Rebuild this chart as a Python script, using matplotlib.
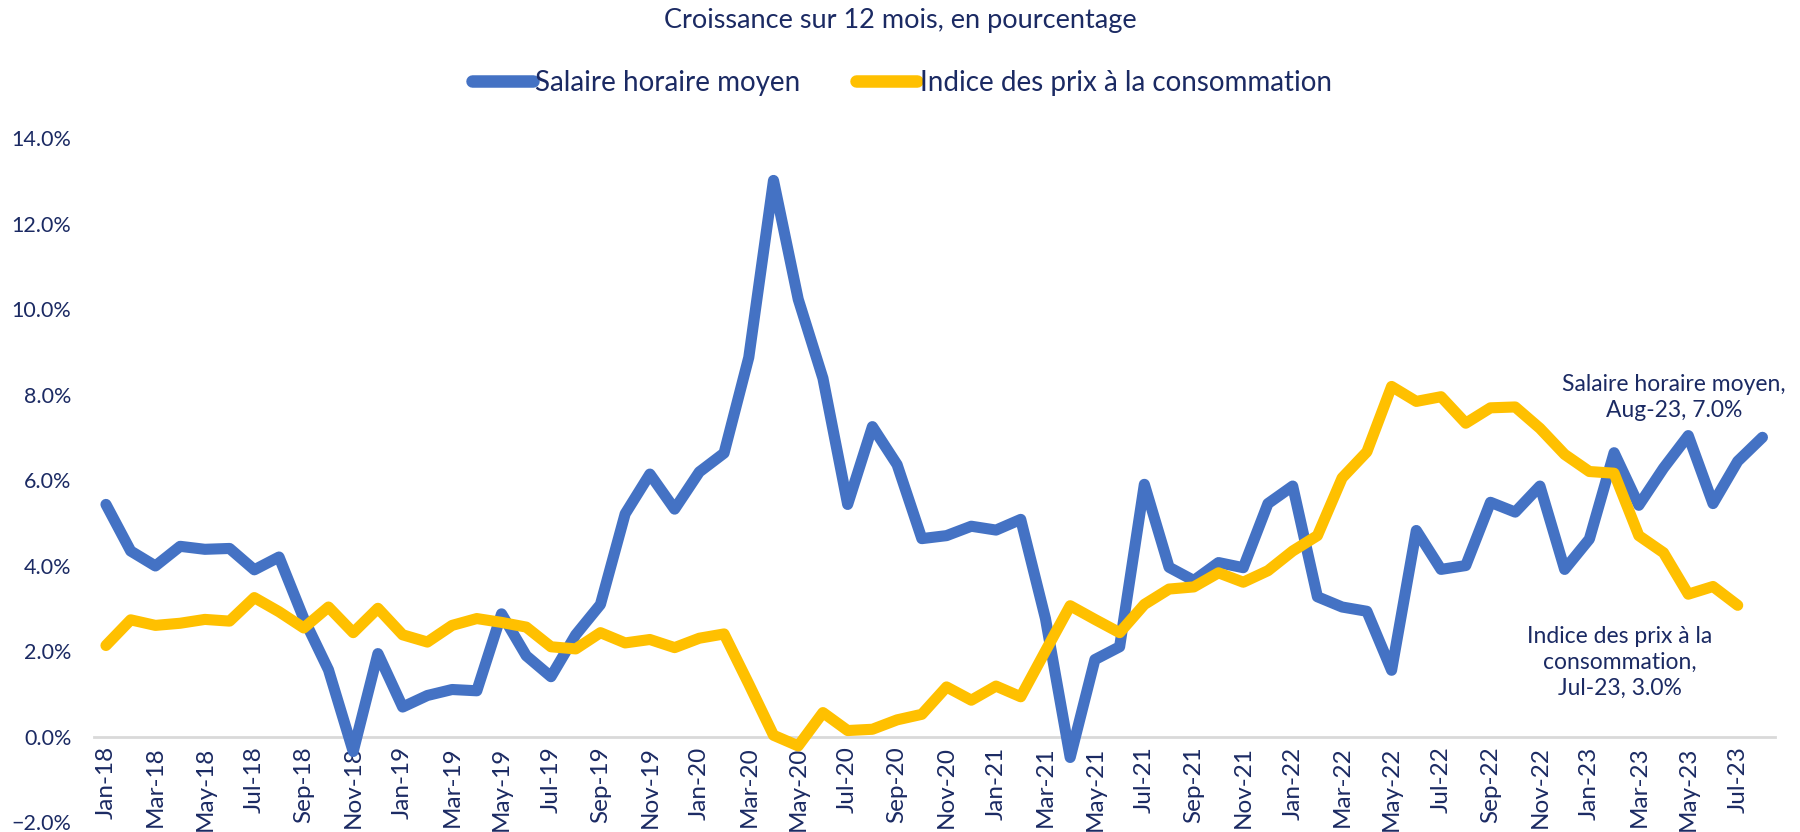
import numpy as np
import pandas as pd
import matplotlib
matplotlib.use("Agg")
import matplotlib.pyplot as plt
from matplotlib.ticker import PercentFormatter

plt.rcParams['font.family'] = ['Lato', 'DejaVu Sans']

NAVY = "#1B2A63"
BLUE = "#4472C4"
GOLD = "#FFC000"

# monthly categories, Jan-18 .. Aug-23
months = pd.date_range("2018-01-01", periods=68, freq="MS").strftime("%b-%y").tolist()

# Salaire horaire moyen, 12-month growth (%)
salaire = [
    5.43, 4.34, 3.99, 4.45, 4.38, 4.40, 3.90, 4.20, 2.76, 1.56, -0.35, 1.94,
    0.69, 0.96, 1.10, 1.07, 2.87, 1.89, 1.40, 2.38, 3.09, 5.21, 6.14, 5.32,
    6.19, 6.63, 8.87, 13.01, 10.23, 8.38, 5.43, 7.25, 6.36, 4.63, 4.70, 4.92,
    4.83, 5.08, 2.76, -0.49, 1.80, 2.10, 5.90, 3.96, 3.65, 4.07, 3.95, 5.45,
    5.86, 3.27, 3.03, 2.93, 1.55, 4.82, 3.91, 4.00, 5.48, 5.25, 5.86, 3.91,
    4.62, 6.64, 5.41, 6.28, 7.04, 5.45, 6.44, 7.00,
]

# Indice des prix a la consommation, 12-month growth (%), ends Jul-23
ipc = [
    2.13, 2.73, 2.60, 2.65, 2.74, 2.70, 3.25, 2.92, 2.54, 3.03, 2.43, 3.00,
    2.38, 2.21, 2.60, 2.76, 2.67, 2.56, 2.10, 2.05, 2.43, 2.19, 2.27, 2.08,
    2.30, 2.40, 1.23, 0.03, -0.22, 0.56, 0.14, 0.17, 0.39, 0.52, 1.16, 0.85,
    1.18, 0.93, 2.00, 3.06, 2.74, 2.43, 3.09, 3.45, 3.50, 3.83, 3.61, 3.88,
    4.34, 4.70, 6.05, 6.66, 8.19, 7.84, 7.95, 7.33, 7.69, 7.71, 7.21, 6.60,
    6.20, 6.16, 4.70, 4.30, 3.33, 3.51, 3.07,
]

fig = plt.figure(figsize=(18, 8.32), dpi=100)
ax = fig.add_axes([0.052, 0.012, 0.934, 0.822])

x_sal = np.arange(len(salaire))
x_ipc = np.arange(len(ipc))

ax.plot(x_sal, salaire, color=BLUE, lw=8, solid_joinstyle="round",
        solid_capstyle="round", label="Salaire horaire moyen", zorder=3)
ax.plot(x_ipc, ipc, color=GOLD, lw=8, solid_joinstyle="round",
        solid_capstyle="round", label="Indice des prix à la consommation", zorder=3)

# category axis crosses at 0 (spine move resets ticks, so do it first)
for s in ["top", "right", "left"]:
    ax.spines[s].set_visible(False)
ax.spines["bottom"].set_position(("data", 0))
ax.spines["bottom"].set_color("#D9D9D9")
ax.spines["bottom"].set_linewidth(2)
ax.spines["bottom"].set_zorder(1)

ax.set_xlim(-0.5, len(months) - 0.5)
ax.set_ylim(-2, 14)
ax.set_yticks(np.arange(-2, 15, 2))
ax.yaxis.set_major_formatter(PercentFormatter(decimals=1))

ax.set_xticks(np.arange(0, len(months), 2))
ax.set_xticklabels(months[::2])

ax.tick_params(axis="both", length=0, colors=NAVY)
ax.tick_params(axis="y", pad=16, labelsize=15.5)
ax.tick_params(axis="x", pad=7, labelrotation=90, labelsize=17.5)

fig.text(0.5, 0.975, "Croissance sur 12 mois, en pourcentage", ha="center",
         va="center", fontsize=19.5, color=NAVY)

leg = fig.legend(loc="center", bbox_to_anchor=(0.501, 0.9), ncol=2, frameon=False,
                 fontsize=20, handlelength=2.2, handletextpad=0.1,
                 columnspacing=2.0)
for t in leg.get_texts():
    t.set_color(NAVY)
for h in leg.get_lines():
    h.set_linewidth(9)
    h.set_solid_capstyle("round")

# end-of-series data labels
fig.text(0.930, 0.522, "Salaire horaire moyen,\nAug-23, 7.0%", ha="center",
         va="center", fontsize=16.5, color=NAVY, linespacing=1.3)
fig.text(0.9, 0.204, "Indice des prix à la\nconsommation,\nJul-23, 3.0%",
         ha="center", va="center", fontsize=16.5, color=NAVY, linespacing=1.3)

fig.savefig("out.png", dpi=100)
